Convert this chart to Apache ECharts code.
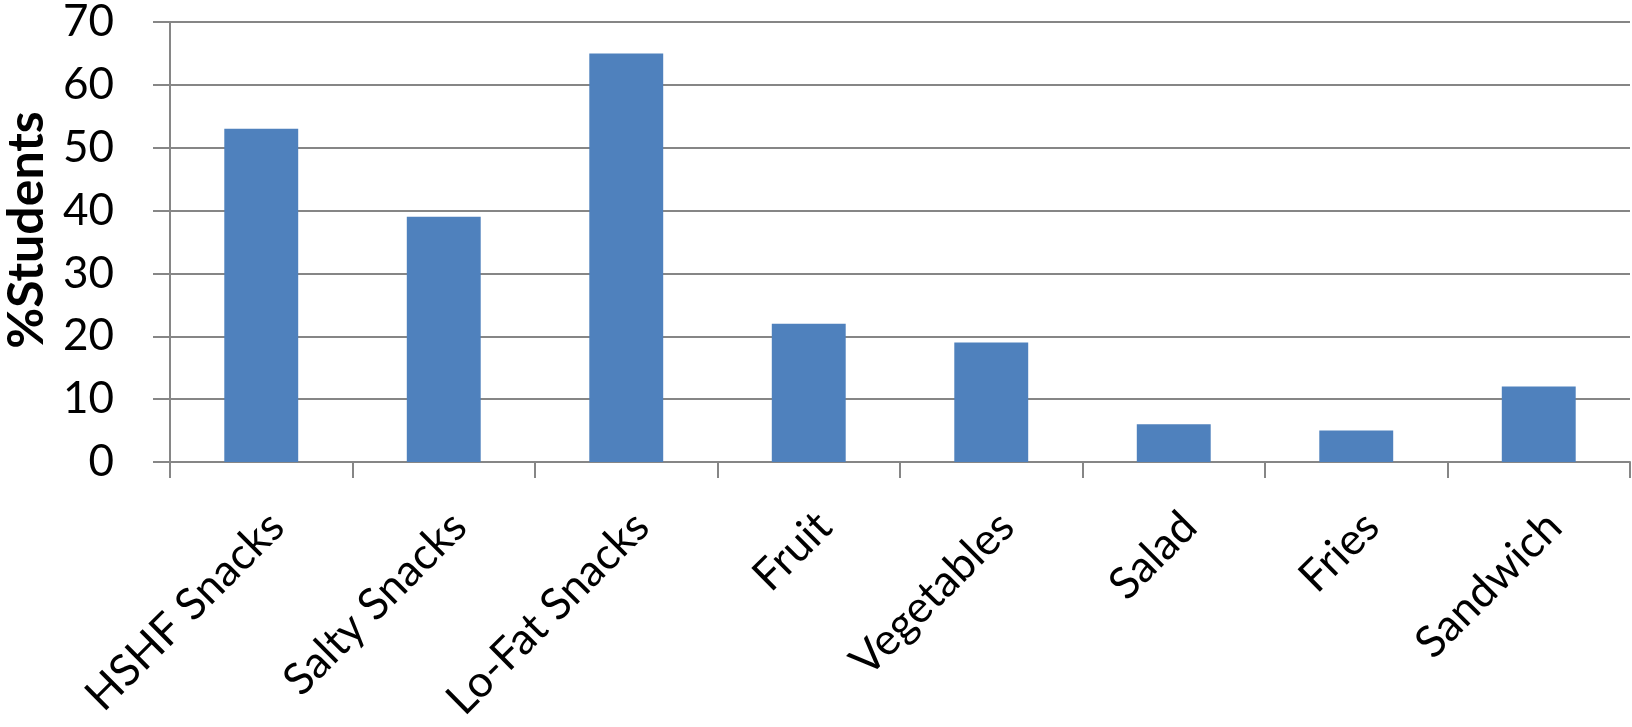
<!DOCTYPE html>
<html>
<head>
<meta charset="utf-8">
<script src="https://cdn.jsdelivr.net/npm/echarts@6/dist/echarts.min.js"></script>
<style>
html,body{margin:0;padding:0;background:#fff;}
#chart{width:1632px;height:727px;}
</style>
</head>
<body>
<div id="chart"></div>
<script>
const categories = ['HSHF Snacks', 'Salty Snacks', 'Lo-Fat Snacks', 'Fruit', 'Vegetables', 'Salad', 'Fries', 'Sandwich'];
const studentPct = [53, 39, 65, 22, 19, 6, 5, 12];
const yTicks = { min: 0, max: 70, interval: 10 };
const yTitle = '%Students';

const chart = echarts.init(document.getElementById('chart'), null, { renderer: 'canvas' });
const gray = '#868686';
chart.setOption({
  animation: false,
  backgroundColor: '#ffffff',
  grid: { left: 170, right: 2, top: 22, bottom: 265, containLabel: false, outerBoundsMode: 'none' },
  xAxis: {
    type: 'category',
    data: categories,
    boundaryGap: true,
    axisLine: { show: true, lineStyle: { color: gray, width: 2 } },
    axisTick: { show: true, length: 16, alignWithLabel: false, lineStyle: { color: gray, width: 2 } },
    axisLabel: {
      rotate: 45,
      interval: 0,
      margin: 42,
      align: 'right',
      verticalAlign: 'top',
      fontFamily: 'Lato',
      fontSize: 44,
      color: '#000'
    },
    splitLine: { show: false }
  },
  yAxis: {
    type: 'value',
    min: yTicks.min,
    max: yTicks.max,
    interval: yTicks.interval,
    name: yTitle,
    nameLocation: 'middle',
    nameRotate: 90,
    nameGap: 116,
    nameTextStyle: { fontFamily: 'Lato', fontWeight: 'bold', fontSize: 50, color: '#000', padding: [0, 0, 0, 24] },
    axisLine: { show: true, lineStyle: { color: gray, width: 2 } },
    axisTick: { show: true, length: 17, lineStyle: { color: gray, width: 2 } },
    axisLabel: { margin: 56, fontFamily: 'Lato', fontSize: 44, color: '#000' },
    splitLine: { show: true, lineStyle: { color: gray, width: 2 } }
  },
  series: [{
    type: 'bar',
    data: studentPct,
    barWidth: '40.5%',
    itemStyle: { color: '#4F81BD' }
  }]
});
</script>
</body>
</html>
